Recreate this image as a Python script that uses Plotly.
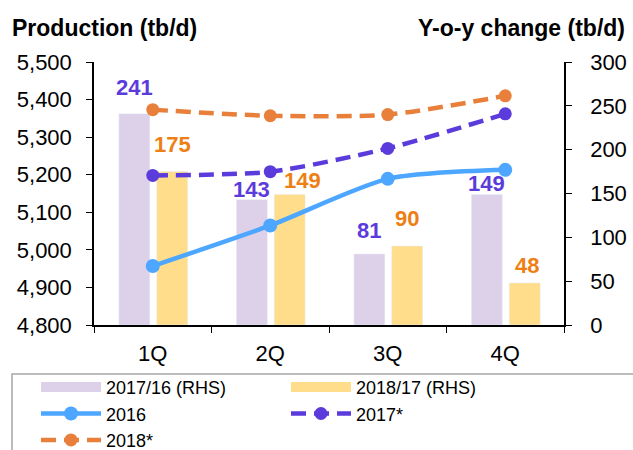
import plotly.graph_objects as go

quarters = ["1Q", "2Q", "3Q", "4Q"]

# Year-on-year changes (right axis, tb/d)
chg_17_16 = [241, 143, 81, 149]
chg_18_17 = [175, 149, 90, 48]

# Production levels (left axis, tb/d)
prod_2016 = [4957, 5065, 5189, 5213]
prod_2017 = [5198, 5208, 5270, 5362]
prod_2018 = [5373, 5357, 5360, 5410]

left_ticks = [4800, 4900, 5000, 5100, 5200, 5300, 5400, 5500]
right_ticks = [0, 50, 100, 150, 200, 250, 300]

PURPLE_BAR = "#DDD1EA"
YELLOW_BAR = "#FFDD8A"
BLUE = "#4DA6FF"
VIOLET = "#5B3BDB"
ORANGE = "#E8803C"
ORANGE_TXT = "#EE7F14"
FONT = "Liberation Sans, Arial, sans-serif"

BAR_W = 0.263
OFF_A = -0.288
OFF_B = 0.034
# pixel nudges of each value label relative to its bar top / centre
lift_a = [12, -4, 9, -4]
lift_b = [13, -1, 13, 3]
nudge_b = [0, 13, 0, 2]

fig = go.Figure()

# Bars live on the primary (right-hand) axis so the lines draw above them
fig.add_trace(go.Bar(
    x=quarters, y=chg_17_16, name="2017/16 (RHS)", yaxis="y",
    marker=dict(color=PURPLE_BAR), width=BAR_W, offset=OFF_A, showlegend=False,
))
fig.add_trace(go.Bar(
    x=quarters, y=chg_18_17, name="2018/17 (RHS)", yaxis="y",
    marker=dict(color=YELLOW_BAR), width=BAR_W, offset=OFF_B, showlegend=False,
))
# wide swatches for the bar series in the legend
fig.add_trace(go.Scatter(
    x=[None], y=[None], name="2017/16 (RHS)", mode="lines", yaxis="y",
    line=dict(color=PURPLE_BAR, width=12),
))
fig.add_trace(go.Scatter(
    x=[None], y=[None], name="2018/17 (RHS)", mode="lines", yaxis="y",
    line=dict(color=YELLOW_BAR, width=12),
))
fig.add_trace(go.Scatter(
    x=quarters, y=prod_2016, name="2016", mode="lines+markers", yaxis="y2",
    line=dict(color=BLUE, width=4.5, shape="spline", smoothing=0.7),
    marker=dict(size=14, color=BLUE),
))
fig.add_trace(go.Scatter(
    x=quarters, y=prod_2017, name="2017*", mode="lines+markers", yaxis="y2",
    line=dict(color=VIOLET, width=4.5, dash="15px,8px", shape="spline", smoothing=0.7),
    marker=dict(size=13, color=VIOLET),
))
fig.add_trace(go.Scatter(
    x=quarters, y=prod_2018, name="2018*", mode="lines+markers", yaxis="y2",
    line=dict(color=ORANGE, width=4.5, dash="15px,8px", shape="spline", smoothing=0.7),
    marker=dict(size=13, color=ORANGE),
))

annotations = []
for i, (va, vb) in enumerate(zip(chg_17_16, chg_18_17)):
    annotations.append(dict(
        x=i + OFF_A + BAR_W / 2, y=va, xref="x", yref="y", text=f"<b>{va}</b>",
        showarrow=False, yanchor="bottom", yshift=lift_a[i],
        font=dict(family=FONT, size=22, color=VIOLET)))
    annotations.append(dict(
        x=i + OFF_B + BAR_W / 2, y=vb, xref="x", yref="y", text=f"<b>{vb}</b>",
        showarrow=False, yanchor="bottom", yshift=lift_b[i], xshift=nudge_b[i],
        font=dict(family=FONT, size=22, color=ORANGE_TXT)))

annotations += [
    dict(text="<b>Production (tb/d)</b>", xref="paper", yref="paper",
         x=-0.179, y=1.13, xanchor="left", yanchor="middle", showarrow=False,
         font=dict(family=FONT, size=23, color="#000000")),
    dict(text="<b>Y-o-y change (tb/d)</b>", xref="paper", yref="paper",
         x=1.134, y=1.13, xanchor="right", yanchor="middle", showarrow=False,
         font=dict(family=FONT, size=23, color="#000000")),
]

axis_font = dict(family=FONT, size=22, color="#000000")

fig.update_layout(
    width=633, height=450,
    margin=dict(l=94, r=69, t=62, b=125, autoexpand=False),
    paper_bgcolor="white", plot_bgcolor="white",
    font=dict(family=FONT, color="#000000"),
    showlegend=True,
    barmode="overlay",
    xaxis=dict(
        type="category", showline=True, linecolor="#000000", linewidth=1.5,
        ticks="outside", tickson="boundaries", ticklen=6, tickcolor="#000000",
        tickfont=axis_font, showgrid=False, zeroline=False,
        ticklabelstandoff=8, range=[-0.5, 3.5],
    ),
    yaxis=dict(
        range=[0, 300], tickvals=right_ticks, side="right",
        showline=True, linecolor="#000000", linewidth=1.5,
        ticks="outside", ticklen=6, tickcolor="#000000",
        tickfont=axis_font, showgrid=False, zeroline=False,
        ticklabelstandoff=14,
    ),
    yaxis2=dict(
        range=[4800, 5500], tickvals=left_ticks,
        ticktext=[f"{v:,}" for v in left_ticks],
        overlaying="y", side="left",
        showline=True, linecolor="#000000", linewidth=1.5,
        ticks="outside", ticklen=6, tickcolor="#000000",
        tickfont=axis_font, showgrid=False, zeroline=False,
        ticklabelstandoff=10,
    ),
    legend=dict(
        orientation="h", x=-0.1234, y=-0.167, xanchor="left", yanchor="top",
        entrywidth=175, entrywidthmode="pixels",
        font=dict(family=FONT, size=18, color="#000000"),
        borderwidth=0, bgcolor="rgba(0,0,0,0)",
        traceorder="normal", tracegroupgap=0, itemwidth=60,
    ),
    shapes=[dict(
        type="rect", xref="paper", yref="paper",
        x0=-0.1745, x1=1.2, y0=-0.186, y1=-0.6,
        line=dict(color="#A6A6A6", width=1.5), fillcolor="rgba(0,0,0,0)",
        layer="below",
    )],
    annotations=annotations,
)

fig.write_html("out.html")
